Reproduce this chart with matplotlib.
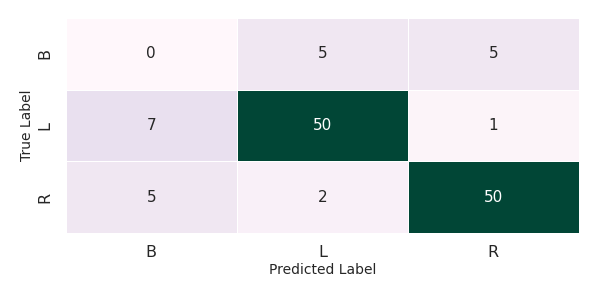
import numpy as np
import matplotlib
matplotlib.use('Agg')
import matplotlib.pyplot as plt
import seaborn as sns

# 数据 ------------------------------------------------------------------
labels = ['B', 'L', 'R']
cm_row_B = [0, 5, 5]
cm_row_L = [7, 50, 1]
cm_row_R = [5, 2, 50]
cm = np.array([cm_row_B, cm_row_L, cm_row_R])

# 画图 ------------------------------------------------------------------
fig = plt.figure(figsize=(5.98, 2.99), dpi=100)
ax = fig.add_axes([0.110, 0.221, 0.858, 0.719])
sns.heatmap(cm, annot=True, fmt='d', cmap='PuBuGn', cbar=False,
            linewidths=0.6, linecolor='white', ax=ax,
            xticklabels=labels, yticklabels=labels,
            annot_kws={'fontsize': 11})
ax.tick_params(length=0, labelsize=11.5, colors='#262626')
ax.tick_params(axis='x', pad=9)
ax.tick_params(axis='y', pad=10)
plt.setp(ax.get_yticklabels(), rotation=90, va='center')
ax.set_xlabel('Predicted Label', fontsize=10, color='#262626', labelpad=2)
ax.set_ylabel('True Label', fontsize=10, color='#262626', labelpad=2)
fig.savefig('out.png', dpi=100)
